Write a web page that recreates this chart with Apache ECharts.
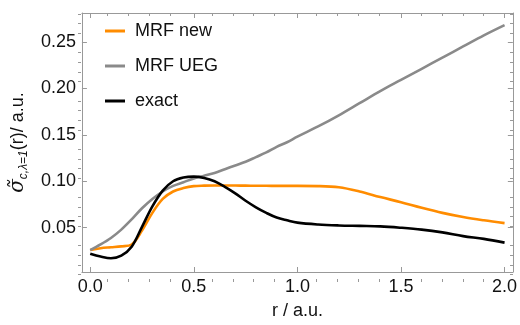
<!DOCTYPE html>
<html>
<head>
<meta charset="utf-8">
<script src="https://cdn.jsdelivr.net/npm/echarts@6/dist/echarts.min.js"></script>
<style>
  html, body { margin: 0; padding: 0; background: #fff; }
  #chart { width: 520px; height: 325px; }
</style>
</head>
<body>
<div id="chart"></div>
<script>
// r values (a.u.)
const rVals = [0, 0.05, 0.1, 0.15, 0.2, 0.25, 0.3, 0.35, 0.4, 0.45, 0.5, 0.55, 0.6, 0.65, 0.7, 0.75,
  0.8, 0.85, 0.9, 0.95, 1.0, 1.1, 1.2, 1.3, 1.4, 1.5, 1.6, 1.7, 1.8, 1.9, 2.0];

const mrfNew = [0.026, 0.028, 0.029, 0.030, 0.032, 0.047, 0.066, 0.081, 0.089, 0.0927, 0.0948, 0.0953,
  0.0955, 0.0955, 0.0954, 0.0953, 0.0952, 0.0951, 0.095, 0.095, 0.095, 0.0948, 0.0935, 0.089, 0.083,
  0.0775, 0.0715, 0.066, 0.0615, 0.058, 0.055];

const mrfUEG = [0.026, 0.032, 0.039, 0.048, 0.059, 0.071, 0.081, 0.089, 0.095, 0.099, 0.103, 0.106,
  0.109, 0.113, 0.117, 0.121, 0.126, 0.131, 0.137, 0.142, 0.148, 0.159, 0.171, 0.184, 0.197, 0.209,
  0.221, 0.233, 0.245, 0.257, 0.268];

const exact = [0.022, 0.019, 0.0172, 0.020, 0.0296, 0.051, 0.073, 0.090, 0.100, 0.104, 0.105, 0.1035,
  0.100, 0.094, 0.087, 0.079, 0.072, 0.066, 0.061, 0.058, 0.0555, 0.0535, 0.0525, 0.052, 0.0515, 0.050,
  0.048, 0.045, 0.041, 0.038, 0.034];

// tick positions
const xMajor = [0, 0.5, 1, 1.5, 2];
const xMinor = [0.1, 0.2, 0.3, 0.4, 0.6, 0.7, 0.8, 0.9, 1.1, 1.2, 1.3, 1.4, 1.6, 1.7, 1.8, 1.9];
const yMajor = [0.05, 0.1, 0.15, 0.2, 0.25];
const yMinor = [0.01, 0.02, 0.03, 0.04, 0.06, 0.07, 0.08, 0.09, 0.11, 0.12, 0.13, 0.14,
  0.16, 0.17, 0.18, 0.19, 0.21, 0.22, 0.23, 0.24, 0.26, 0.27, 0.28];

const frameColor = "#999999";
const font = "'Liberation Sans', Arial, sans-serif";

const pair = (x, y) => x.map((v, i) => [v, y[i]]);

const xMin = -0.04, xMax = 2.04, yMin = 0.0024, yMax = 0.281;
const gridBox = { left: 78, right: 7, top: 13, bottom: 43 };

// grid 0 carries the frame, major ticks and labels; grid 1 (same box) only the minor ticks
const makeAxis = (gridIndex, pos, min, max, ticks, len, fmt) => ({
  type: "value",
  gridIndex: gridIndex,
  position: pos,
  min: min,
  max: max,
  axisLine: { show: gridIndex === 0, onZero: false, lineStyle: { color: frameColor, width: 1 } },
  splitLine: { show: false },
  axisTick: {
    show: true,
    inside: true,
    length: len,
    customValues: ticks,
    lineStyle: { color: frameColor, width: 1 },
  },
  axisLabel: fmt
    ? {
        show: true,
        customValues: ticks,
        formatter: fmt,
        color: "#111",
        fontSize: 18,
        fontFamily: font,
        margin: 6,
      }
    : { show: false },
});

const xAxes = [
  makeAxis(0, "bottom", xMin, xMax, xMajor, 5, (v) => v.toFixed(1)),
  makeAxis(0, "top", xMin, xMax, xMajor, 5),
  makeAxis(1, "bottom", xMin, xMax, xMinor, 3),
  makeAxis(1, "top", xMin, xMax, xMinor, 3),
];
xAxes[0].name = "r / a.u.";
xAxes[0].nameLocation = "middle";
xAxes[0].nameGap = 30;
xAxes[0].nameTextStyle = { color: "#111", fontSize: 18, fontFamily: font };

const yAxes = [
  makeAxis(0, "left", yMin, yMax, yMajor, 5, (v) => v.toFixed(2)),
  makeAxis(0, "right", yMin, yMax, yMajor, 5),
  makeAxis(1, "left", yMin, yMax, yMinor, 3),
  makeAxis(1, "right", yMin, yMax, yMinor, 3),
];
yAxes[0].name = "{s|σ̃}{sub|c,λ=1}{n|(r)/ a.u.}";
yAxes[0].nameLocation = "middle";
yAxes[0].nameGap = 50;
yAxes[0].nameTextStyle = {
  rich: {
    s: { fontSize: 20, fontStyle: "italic", fontFamily: "'DejaVu Serif', serif", color: "#111", lineHeight: 24, verticalAlign: "middle" },
    sub: { fontSize: 12, fontStyle: "italic", fontFamily: font, color: "#111", lineHeight: 12, verticalAlign: "bottom" },
    n: { fontSize: 18, fontFamily: font, color: "#111", lineHeight: 24, verticalAlign: "middle" },
  },
};

const chart = echarts.init(document.getElementById("chart"), null, { renderer: "canvas" });

const option = {
  animation: false,
  grid: [{ ...gridBox }, { ...gridBox }],
  legend: {
    orient: "vertical",
    left: 105,
    top: 21,
    padding: 0,
    icon: "rect",
    itemWidth: 20,
    itemHeight: 3,
    itemGap: 15,
    textStyle: { fontSize: 18, fontFamily: font, color: "#111", lineHeight: 20, padding: [0, 0, 0, 5] },
    data: ["MRF new", "MRF UEG", "exact"],
  },
  xAxis: xAxes,
  yAxis: yAxes,
  series: [
    { name: "MRF new", data: pair(rVals, mrfNew), color: "#ff8c00" },
    { name: "MRF UEG", data: pair(rVals, mrfUEG), color: "#8a8a8a" },
    { name: "exact", data: pair(rVals, exact), color: "#000000" },
  ].map((s) => ({
    ...s,
    type: "line",
    xAxisIndex: 0,
    yAxisIndex: 0,
    smooth: 0.35,
    symbol: "none",
    lineStyle: { width: 2.6, color: s.color },
    itemStyle: { color: s.color },
  })),
};

chart.setOption(option);
</script>
</body>
</html>
